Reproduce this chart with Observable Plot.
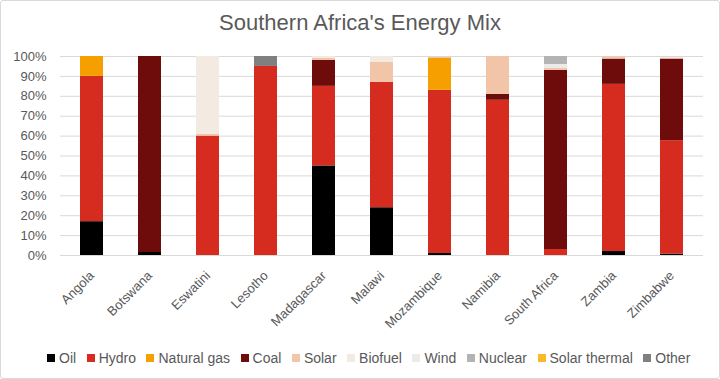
<!DOCTYPE html>
<html>
<head>
<meta charset="utf-8">
<script src="https://cdn.jsdelivr.net/npm/d3@7"></script>
<script src="https://cdn.jsdelivr.net/npm/@observablehq/plot@0.6"></script>
<style>
  html, body { margin: 0; padding: 0; background: #fff; }
  #frame {
    width: 720px; height: 379px; box-sizing: border-box;
    border: 1px solid #d9d9d9; border-radius: 3px; overflow: hidden;
    font-family: "Liberation Sans", Arial, sans-serif; color: #595959;
  }
  #title { height: 39px; line-height: 22px; padding-top: 11px; box-sizing: border-box;
    text-align: center; font-size: 22px; color: #595959; }
  #chart svg { display: block; }
  #legend { display: flex; align-items: center; padding-left: 46px; height: 36px; font-size: 14px; color: #595959; }
  .item { display: flex; align-items: center; margin-right: 10.5px; white-space: nowrap; }
  .sw { width: 8px; height: 8px; margin-right: 4px; }
</style>
</head>
<body>
<div id="frame">
  <div id="title">Southern Africa's Energy Mix</div>
  <div id="chart"></div>
  <div id="legend"></div>
</div>
<script>
const countries = ["Angola", "Botswana", "Eswatini", "Lesotho", "Madagascar", "Malawi", "Mozambique", "Namibia", "South Africa", "Zambia", "Zimbabwe"];
const sources = ["Oil", "Hydro", "Natural gas", "Coal", "Solar", "Biofuel", "Wind", "Nuclear", "Solar thermal", "Other"];
const colors = ["#000000", "#d62c1f", "#f5a000", "#6e0b0b", "#f2c4a8", "#f3ebe1", "#ebebeb", "#b3b3b3", "#fbb829", "#808080"];

const oil          = [17, 1.5, 0, 0, 45, 24, 1, 0, 0, 2, 0.7];
const hydro        = [73, 0, 60, 95, 40, 63, 82, 78, 3, 84, 57];
const naturalGas   = [10, 0, 0, 0, 0, 0, 16, 0, 0, 0, 0];
const coal         = [0, 98.5, 0, 0, 13, 0, 0, 3, 90, 12.7, 41];
const solar        = [0, 0, 1, 0, 1, 10, 0.5, 19, 1, 1, 0.5];
const biofuel      = [0, 0, 39, 0, 1, 3, 0, 0, 0, 0, 0];
const wind         = [0, 0, 0, 0, 0, 0, 0, 0, 2, 0, 0];
const nuclear      = [0, 0, 0, 0, 0, 0, 0, 0, 4, 0, 0];
const solarThermal = [0, 0, 0, 0, 0, 0, 0, 0, 0, 0, 0];
const other        = [0, 0, 0, 5, 0, 0, 0, 0, 0, 0, 0];

const yTicks = [0, 10, 20, 30, 40, 50, 60, 70, 80, 90, 100];

const series = [oil, hydro, naturalGas, coal, solar, biofuel, wind, nuclear, solarThermal, other];
const rows = [];
sources.forEach((s, si) => {
  countries.forEach((c, ci) => {
    rows.push({country: c, source: s, value: series[si][ci]});
  });
});

const chart = Plot.plot({
  width: 718,
  height: 300,
  marginTop: 16,
  marginLeft: 59,
  marginRight: 16,
  marginBottom: 85,
  style: {fontFamily: "'Liberation Sans', Arial, sans-serif", fontSize: "13px", color: "#595959", background: "#fff"},
  x: {domain: countries, paddingInner: 0.6, paddingOuter: 0.3, label: null},
  y: {domain: [0, 100], label: null},
  color: {domain: sources, range: colors},
  marks: [
    Plot.gridY(yTicks, {stroke: "#d9d9d9", strokeOpacity: 1, strokeWidth: 1}),
    Plot.axisY(yTicks, {tickFormat: d => d + "%", tickSize: 0, tickPadding: 14, fontSize: 13, fill: "#595959", label: null}),
    Plot.axisX({tickSize: 0, tickRotate: -45, tickPadding: 18, fontSize: 13, fill: "#595959", label: null}),
    Plot.barY(rows, Plot.stackY({order: sources, x: "country", y: "value", fill: "source"}))
  ]
});
document.getElementById("chart").appendChild(chart);

const legend = document.getElementById("legend");
sources.forEach((s, i) => {
  const it = document.createElement("div");
  it.className = "item";
  const sw = document.createElement("span");
  sw.className = "sw";
  sw.style.background = colors[i];
  it.appendChild(sw);
  it.appendChild(document.createTextNode(s));
  legend.appendChild(it);
});
</script>
</body>
</html>
